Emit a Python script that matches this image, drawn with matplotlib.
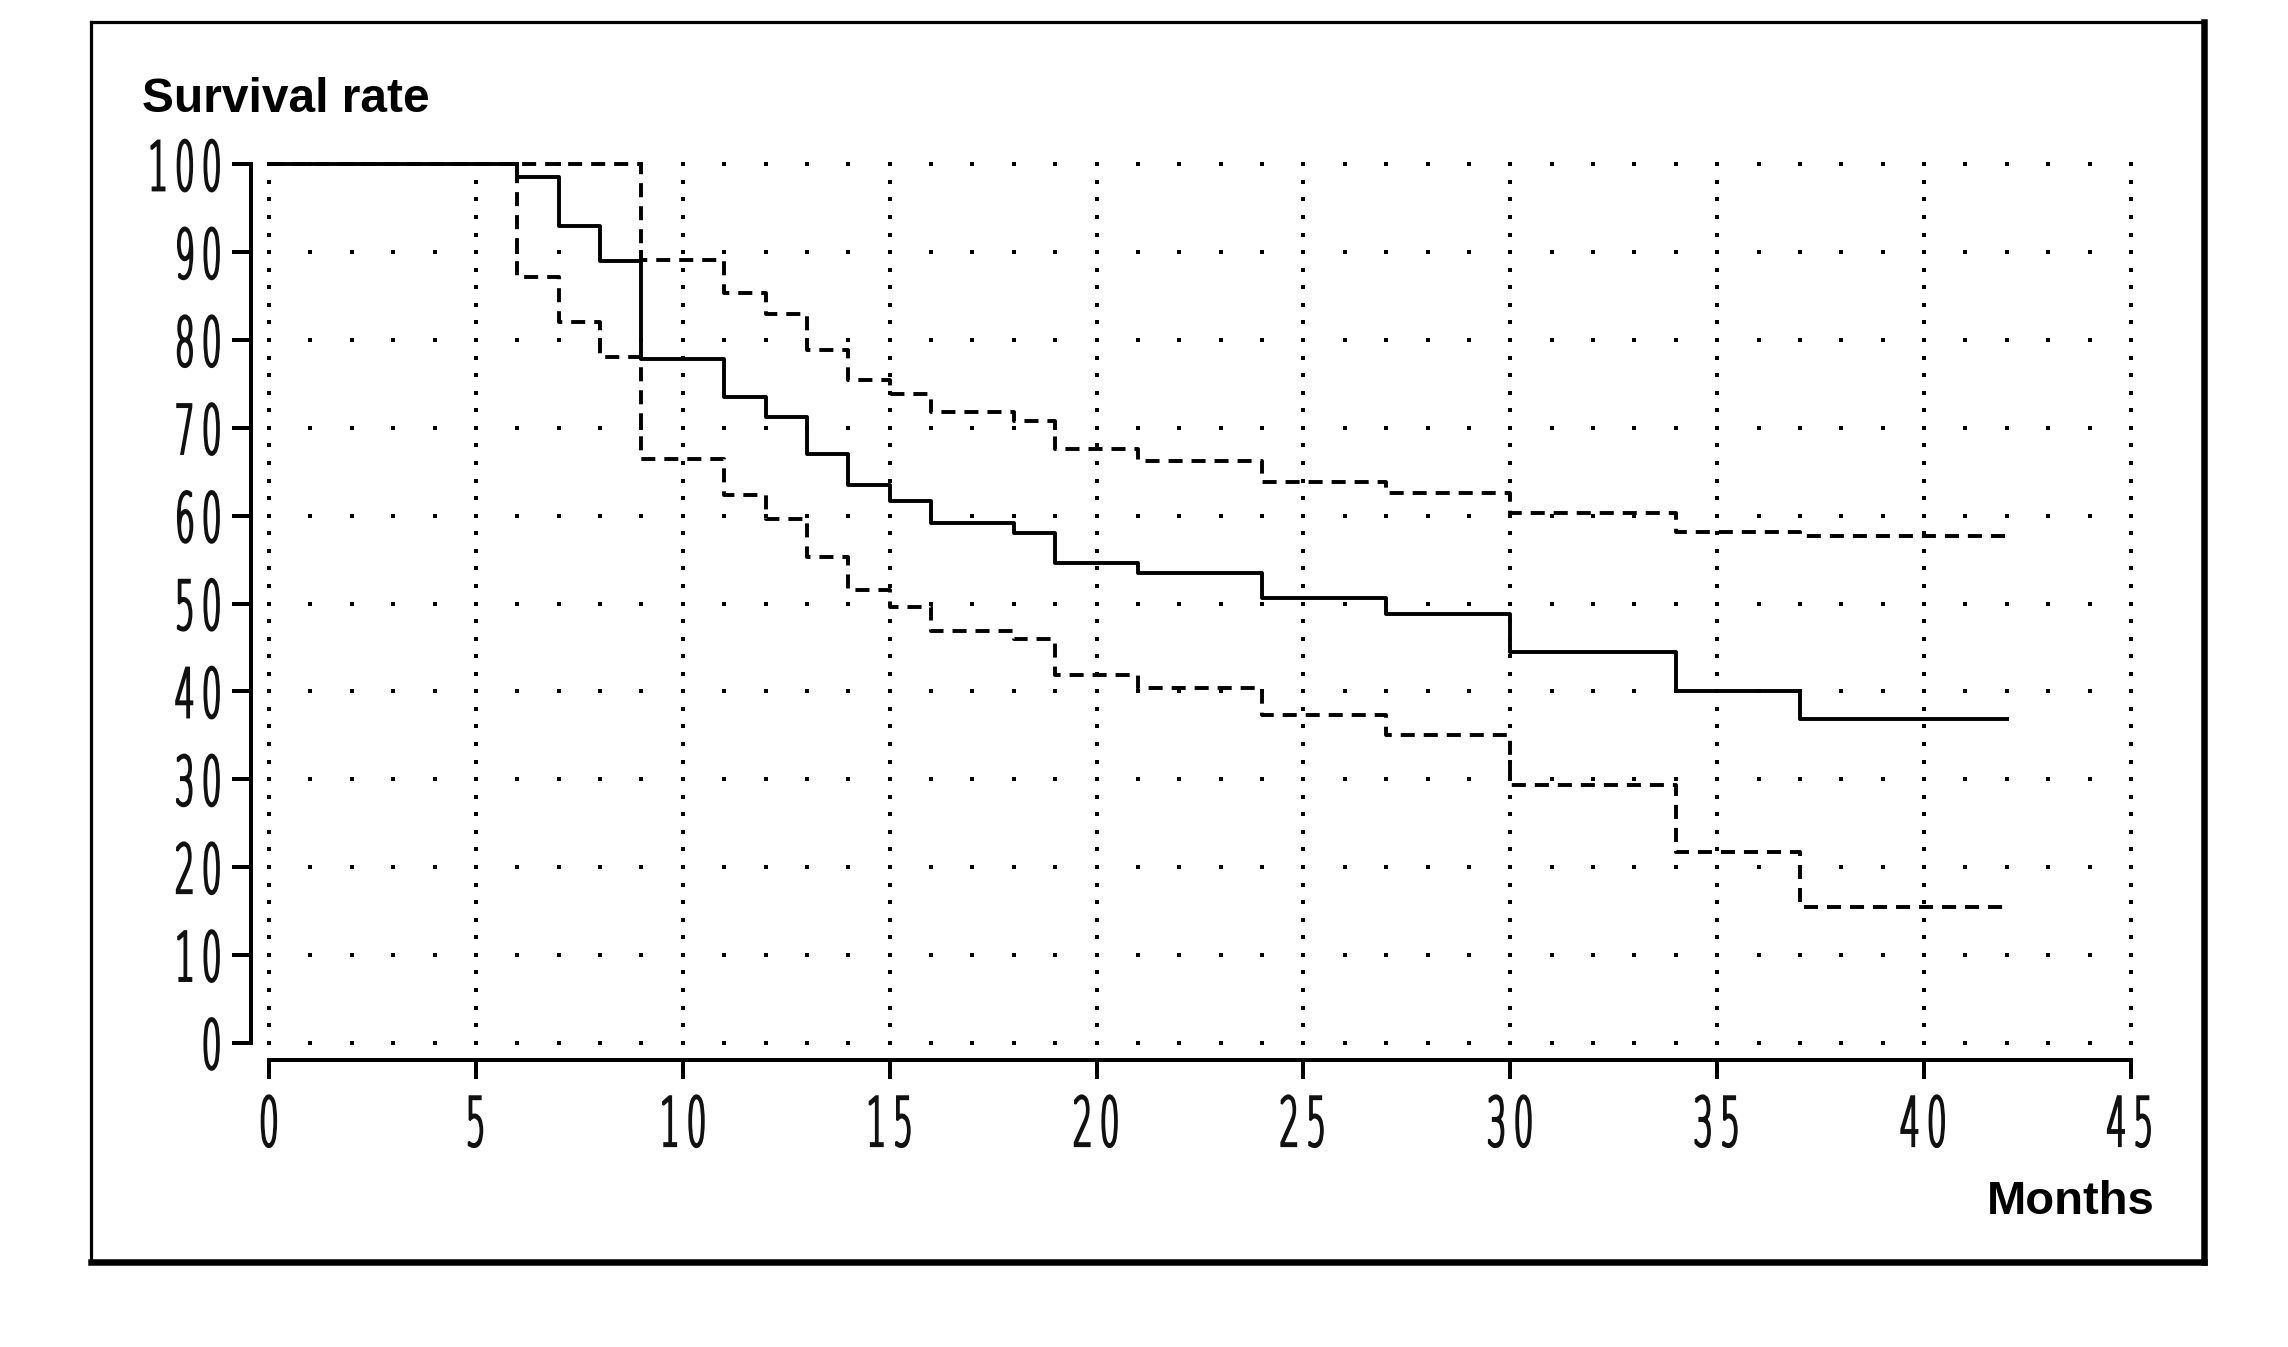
import numpy as np
import matplotlib
matplotlib.use("Agg")
import matplotlib.pyplot as plt
from matplotlib.lines import Line2D
from matplotlib.path import Path
from matplotlib.patheffects import AbstractPathEffect

# ---------------- DATA ----------------
# Kaplan-Meier estimate (solid) with lower / upper confidence limits (dashed)
km_months = [0, 6, 7, 8, 9, 11, 12, 13, 14, 15, 16, 18, 19, 21, 24, 27, 30, 34, 37, 42]
km_rate = [100, 98.5, 93.0, 89.0, 77.8, 73.5, 71.2, 67.0, 63.5, 61.7, 59.2, 58.0,
           54.6, 53.5, 50.6, 48.8, 44.5, 40.0, 36.9, 36.9]

upper_months = [0, 9, 11, 12, 13, 14, 15, 16, 18, 19, 21, 24, 27, 30, 34, 37, 42]
upper_rate = [100, 89.1, 85.3, 83.0, 78.9, 75.4, 73.8, 71.8, 70.8, 67.6, 66.2,
              63.8, 62.6, 60.3, 58.1, 57.7, 57.7]

lower_months = [0, 6, 7, 8, 9, 11, 12, 13, 14, 15, 16, 18, 19, 21, 24, 27, 30, 34, 37, 42]
lower_rate = [100, 87.2, 82.0, 78.1, 66.4, 62.3, 59.6, 55.3, 51.5, 49.6, 46.9, 46.0,
              41.9, 40.4, 37.3, 35.0, 29.3, 21.7, 15.4, 15.4]

x_ticks = [0, 5, 10, 15, 20, 25, 30, 35, 40, 45]
y_ticks = [0, 10, 20, 30, 40, 50, 60, 70, 80, 90, 100]

W, H = 2288, 1347


def px(v):
    # pixels -> points at dpi 100
    return v * 72 / 100


class Narrow(AbstractPathEffect):
    """Squeeze each glyph (and the spacing) horizontally and give it a thin
    outline - the original labels use a very narrow, thin font."""

    def __init__(self, s_glyph, s_pos, anchor="center", stroke=1.5):
        super().__init__()
        self.s_glyph = s_glyph
        self.s_pos = s_pos
        self.anchor = anchor
        self.stroke = stroke

    def draw_path(self, renderer, gc, tpath, affine, rgbFace=None):
        v = tpath.vertices.copy()
        codes = tpath.codes
        if codes is None:
            codes = np.full(len(v), Path.LINETO, dtype=np.uint8)
            codes[0] = Path.MOVETO
        starts = list(np.nonzero(codes == Path.MOVETO)[0]) + [len(v)]
        # contours -> glyphs (overlapping contours belong to the same glyph)
        groups = []
        for i in range(len(starts) - 1):
            idx = np.arange(starts[i], starts[i + 1])
            keep = idx[codes[idx] != Path.CLOSEPOLY]
            lo, hi = v[keep, 0].min(), v[keep, 0].max()
            for g in groups:
                if lo < g[1] and hi > g[0]:
                    g[0], g[1] = min(g[0], lo), max(g[1], hi)
                    g[2].append(idx)
                    break
            else:
                groups.append([lo, hi, [idx]])
        x0 = min(g[0] for g in groups)
        x1 = max(g[1] for g in groups)
        new_x = v[:, 0].copy()
        new_lo, new_hi = [], []
        for lo, hi, parts in groups:
            c = (lo + hi) / 2
            c_new = x0 + (c - x0) * self.s_pos
            for idx in parts:
                new_x[idx] = c_new + (v[idx, 0] - c) * self.s_glyph
            new_lo.append(c_new - (hi - lo) / 2 * self.s_glyph)
            new_hi.append(c_new + (hi - lo) / 2 * self.s_glyph)
        n0, n1 = min(new_lo), max(new_hi)
        if self.anchor == "right":
            shift = x1 - n1
        elif self.anchor == "left":
            shift = x0 - n0
        else:
            shift = (x0 + x1) / 2 - (n0 + n1) / 2
        v[:, 0] = new_x + shift
        gc0 = renderer.new_gc()
        gc0.copy_properties(gc)
        gc0.set_linewidth(self.stroke)
        gc0.set_foreground(rgbFace)
        gc0.set_joinstyle("miter")
        renderer.draw_path(gc0, Path(v, codes), affine, rgbFace)
        gc0.restore()


fig = plt.figure(figsize=(W / 100, H / 100), dpi=100)
fig.patch.set_facecolor("white")

# axes placed so that data 0..45 / 0..100 lands on the reference pixels
ax = fig.add_axes([269 / W, 1 - 1042.7 / H, 1862 / W, 878.4 / H])
ax.set_xlim(0, 45)
ax.set_ylim(0, 100)
ax.set_facecolor("none")

# ---------------- DOTTED GRID ----------------
gx, gy = np.meshgrid(np.arange(0, 46, 1), np.arange(0, 101, 10))
ax.plot(gx.ravel(), gy.ravel(), ls="none", marker="s", ms=px(3.2), mew=0,
        color="black", clip_on=False, zorder=1)
vx, vy = np.meshgrid(np.arange(0, 46, 5), np.arange(0, 101, 2))
ax.plot(vx.ravel(), vy.ravel(), ls="none", marker="s", ms=px(3.2), mew=0,
        color="black", clip_on=False, zorder=1)

# ---------------- CURVES ----------------
lw = px(3.9)
ax.step(upper_months, upper_rate, where="post", color="black", lw=lw,
        ls=(0, (3.6, 2.3)), clip_on=False, zorder=3)
ax.step(lower_months, lower_rate, where="post", color="black", lw=lw,
        ls=(0, (3.6, 2.3)), clip_on=False, zorder=3)
ax.step(km_months, km_rate, where="post", color="black", lw=lw,
        clip_on=False, zorder=4)

# ---------------- AXES ----------------
for s in ["top", "right"]:
    ax.spines[s].set_visible(False)
ax.spines["left"].set_position(("outward", px(18)))
ax.spines["bottom"].set_position(("outward", px(17.3)))
ax.spines["left"].set_bounds(0, 100)
ax.spines["bottom"].set_bounds(0, 45)
for s in ["left", "bottom"]:
    ax.spines[s].set_linewidth(px(4))
    ax.spines[s].set_capstyle("projecting")

ax.set_xticks(x_ticks)
ax.set_yticks(y_ticks)
ax.set_xticklabels([str(t) for t in x_ticks])
ax.set_yticklabels([str(t) for t in y_ticks])
ax.tick_params(axis="y", direction="out", length=px(19), width=px(4), pad=px(7),
               labelsize=49, colors="#111111")
ax.tick_params(axis="x", direction="out", length=px(19), width=px(4), pad=px(15),
               labelsize=49, colors="#111111")
ax.tick_params(axis="both", color="black")
label_fx = dict(s_glyph=0.46, s_pos=0.62, stroke=1.6)
for t in ax.yaxis.get_major_ticks():
    t.label1.set_fontfamily("DejaVu Sans")
    t.label1.set_fontweight("light")
    t.label1.set_path_effects([Narrow(anchor="right", **label_fx)])
for t in ax.xaxis.get_major_ticks():
    t.label1.set_fontfamily("DejaVu Sans")
    t.label1.set_fontweight("light")
    t.label1.set_path_effects([Narrow(anchor="center", **label_fx)])

# ---------------- TITLES ----------------
fig.text(142 / W, 1 - 112 / H, "Survival rate", ha="left", va="baseline",
         fontsize=34.5, fontweight="bold", family=["Liberation Sans", "DejaVu Sans"])
fig.text(2155 / W, 1 - 1214 / H, "Months", ha="right", va="baseline",
         fontsize=34, fontweight="bold", family=["Liberation Sans", "DejaVu Sans"])

# ---------------- OUTER FRAME ----------------
L, T, R, B = 90.7 / W, 1 - 21.7 / H, 2204 / W, 1 - 1262 / H
fig.add_artist(Line2D([L, L], [B, T], color="black", lw=px(3.2), transform=fig.transFigure))
fig.add_artist(Line2D([L, R], [T, T], color="black", lw=px(3.2), transform=fig.transFigure))
fig.add_artist(Line2D([R, R], [B, T], color="black", lw=px(6.5), transform=fig.transFigure,
                      solid_capstyle="projecting"))
fig.add_artist(Line2D([L, R], [B, B], color="black", lw=px(6.5), transform=fig.transFigure,
                      solid_capstyle="projecting"))

fig.savefig("out.png", dpi=100, facecolor="white")
